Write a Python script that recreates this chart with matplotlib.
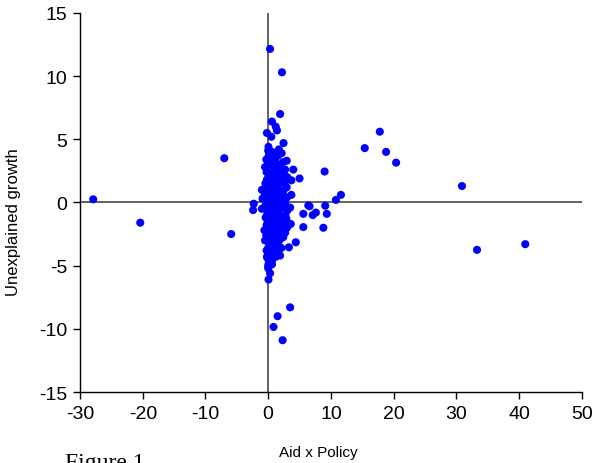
import matplotlib
matplotlib.use('Agg')
import matplotlib.pyplot as plt

plt.rcParams['axes.unicode_minus'] = False

# Aid x Policy vs unexplained growth
# outliers away from the central cluster
aid_policy_out = [-27.9, -20.4, -7.0, -5.9, -2.3, -2.4, 0.3, 2.2, 1.9, 0.6, -0.2, 1.4, 2.45,
                  15.4, 17.8, 18.8, 20.4, 30.9, 33.3, 41.0,
                  9.0, 11.6, 10.8, 9.1, 9.35, 8.8, 6.6, 7.6, 7.1, 5.6, 5.6, 5.0, 4.0, 6.4,
                  0.05, 3.5, 1.5, 0.85, 2.3, 0.3, 4.4, 3.3, 1.9, 0.6]
growth_out = [0.25, -1.6, 3.5, -2.5, -0.1, -0.6, 12.15, 10.3, 7.0, 6.4, 5.5, 5.7, 4.7,
              4.3, 5.6, 4.0, 3.15, 1.3, -3.75, -3.3,
              2.45, 0.6, 0.2, -0.26, -0.9, -2.0, -0.3, -0.8, -1.0, -0.9, -1.95, 1.9, 2.6, -0.24,
              -6.1, -8.3, -9.0, -9.85, -10.9, -5.6, -3.15, -3.55, -4.2, -4.9]

# dense cluster around zero
aid_policy_core = [0.0, 0.1, -0.1, 0.05, 0.0, 0.1, -0.05, 0.0, 0.1, -0.1, 0.0, 0.05, 0.1, -0.05,
                   0.0, 0.1, -0.1, 0.0, 0.05, 0.1, -0.05, 0.0, 0.1, 0.0, 0.05, 0.0, 0.1,
                   0.6, 0.5, 0.7, 0.6, 0.5, 0.65, 0.6, 0.55, 0.7, 0.6, 0.5, 0.65, 0.6, 0.55,
                   0.7, 0.6, 0.5, 0.65, 0.6, 0.55, 0.7, 0.6, 0.5, 0.65,
                   1.2, 1.1, 1.3, 1.2, 1.15, 1.25, 1.2, 1.1, 1.3, 1.2, 1.15, 1.25, 1.2, 1.1,
                   1.3, 1.2, 1.15, 1.25, 1.2, 1.1, 1.2,
                   1.8, 1.7, 1.9, 1.8, 1.75, 1.85, 1.8, 1.7, 1.9, 1.8, 1.75, 1.85, 1.8, 1.7,
                   2.4, 2.3, 2.5, 2.4, 2.35, 2.45, 2.4, 2.3, 2.5, 2.4,
                   3.0, 2.9, 3.1, 3.0, 2.95, 3.05, 2.95,
                   -0.5, -0.6, -0.4, -0.5, -0.55, -0.45, -0.5,
                   -1.0, -0.9, -1.0,
                   3.6, 3.5, 3.7, 3.7,
                   0.3, 0.35, 0.3, 0.25, 0.3, 0.35, 0.3, 0.25, 0.3, 0.35, 0.3, 0.25, 0.3, 0.35,
                   0.9, 0.95, 0.9, 0.85, 0.9, 0.95, 0.9, 0.85, 0.9, 0.95, 0.9, 0.85,
                   1.5, 1.55, 1.5, 1.45, 1.5, 1.55, 1.5, 1.45, 1.5, 1.55,
                   2.1, 2.05, 2.1, 2.15, 2.1, 2.05, 2.1, 2.15,
                   2.7, 2.75, 2.7, 2.65, 2.7,
                   -0.25, -0.3, -0.25, -0.2, -0.3, -0.25, -0.2, -0.25, -0.3, -0.2]
growth_core = [-5.2, -4.8, -4.4, -4.0, -3.6, -3.2, -2.8, -2.4, -2.0, -1.6, -1.2, -0.8, -0.4, 0.0,
               0.4, 0.8, 1.2, 1.6, 2.0, 2.4, 2.8, 3.2, 3.7, 4.1, 4.4, -5.0, -3.0,
               -4.6, -4.1, -3.7, -3.3, -2.9, -2.5, -2.1, -1.7, -1.3, -0.9, -0.5, -0.1, 0.3, 0.7,
               1.1, 1.5, 1.9, 2.3, 2.7, 3.1, 3.5, 4.0, 5.2, -0.3,
               -4.3, -3.8, -3.4, -3.0, -2.6, -2.2, -1.8, -1.4, -1.0, -0.6, -0.2, 0.2, 0.6, 1.0,
               1.4, 1.8, 2.2, 2.6, 3.0, 3.4, 6.0,
               -3.0, -2.5, -2.0, -1.5, -1.0, -0.5, 0.0, 0.5, 1.0, 1.5, 2.0, 2.5, 3.0, 4.2,
               -2.75, -2.2, -1.6, -1.1, -0.4, 0.3, 0.9, 1.6, 2.2, 3.2,
               -2.0, -1.3, -0.6, 0.4, 1.2, 2.0, 3.3,
               -3.0, -2.2, -1.2, -0.3, 0.6, 1.5, 2.8,
               -0.5, 0.3, 1.0,
               -1.7, -0.4, 0.6, 1.75,
               -4.6, -3.8, -3.0, -2.2, -1.4, -0.6, 0.2, 1.0, 1.8, 2.6, 3.4, 3.9, -2.6, 0.6,
               -3.9, -3.1, -2.3, -1.5, -0.7, 0.1, 0.9, 1.7, 2.5, 3.3, -1.9, 0.5,
               -3.6, -2.8, -2.0, -1.2, -0.4, 0.4, 1.2, 2.0, 2.8, 3.7,
               -2.4, -1.3, -0.2, 0.8, 1.9, 2.7, -3.6, 3.9,
               -2.4, -1.0, 0.0, 1.6, 2.6,
               -3.8, -2.6, -1.8, -1.0, -0.2, 0.9, 1.8, 2.4, 3.4, -4.3]

aid_policy = aid_policy_out + aid_policy_core
growth = growth_out + growth_core

fig = plt.figure(figsize=(5.93, 4.64), dpi=100)
ax = fig.add_axes([0.135, 0.153, 0.846, 0.817])

ax.axhline(0, color='#555555', linewidth=1.3, zorder=1)
ax.axvline(0, color='#555555', linewidth=1.3, zorder=1)
ax.scatter(aid_policy, growth, s=34, color='#0000ff', edgecolors='none', zorder=3)

ax.set_xlim(-30, 50)
ax.set_ylim(-15, 15)
ax.set_xticks(range(-30, 51, 10))
ax.set_yticks(range(-15, 16, 5))
for side in ['top', 'right']:
    ax.spines[side].set_visible(False)
for side in ['left', 'bottom']:
    ax.spines[side].set_linewidth(1.0)
ax.tick_params(direction='out', length=5, width=1.0, labelsize=14, pad=4)
for lab in ax.get_xticklabels() + ax.get_yticklabels():
    lab.set_family('Liberation Sans')

# axis titles placed where they sit in the reference
fig.text(318 / 593, 1 - 453 / 464, 'Aid x Policy', fontsize=11, family='Liberation Sans',
         ha='center', va='center')
fig.text(14 / 593, 1 - 222 / 464, 'Unexplained growth', fontsize=12, family='Liberation Sans',
         ha='center', va='center', rotation=90)

fig.text(65 / 593, 1 - 453 / 464, 'Figure 1', family='Liberation Serif', fontsize=17,
         va='top', ha='left')

fig.savefig('out.png', dpi=100)
